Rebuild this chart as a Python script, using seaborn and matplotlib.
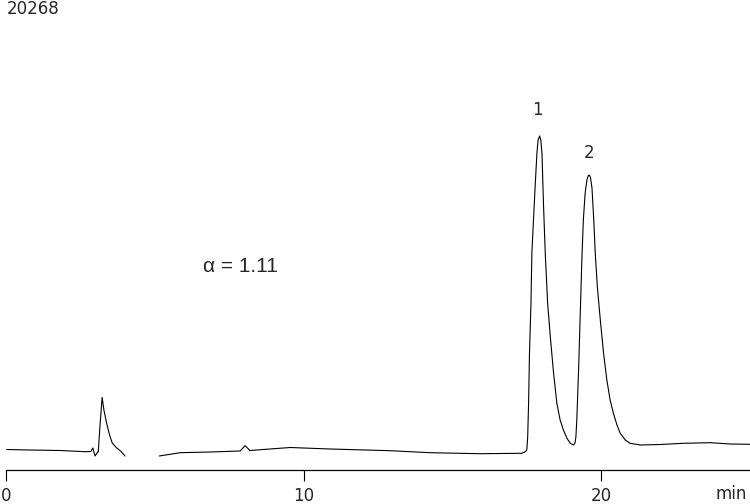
import pandas as pd
import seaborn as sns
import matplotlib.pyplot as plt

time_a = [0.02, 0.81, 1.82, 2.66, 2.85, 2.92, 2.99, 3.08, 3.10, 3.16, 3.23, 3.29,
          3.38, 3.48, 3.57, 3.72, 3.85, 4.00]
signal_a = [20.5, 20.0, 19.5, 18.3, 18.5, 22.0, 14.0, 18.0, 18.0, 45.0, 72.5, 60.0,
            47.0, 35.0, 27.0, 22.0, 19.0, 14.0]

time_b = [5.15, 5.85, 6.86, 7.87, 8.03, 8.20, 8.87, 9.55, 10.89, 12.91, 14.25, 15.93,
          17.33, 17.45, 17.50, 17.53, 17.56, 17.59, 17.64, 17.67, 17.78, 17.84, 17.88,
          17.93, 17.97, 18.01, 18.06, 18.12, 18.20, 18.29, 18.40, 18.51, 18.62, 18.73,
          18.85, 18.96, 19.07, 19.12, 19.15, 19.18, 19.24, 19.29, 19.35, 19.40, 19.46,
          19.52, 19.56, 19.60, 19.64, 19.69, 19.75, 19.80, 19.87, 19.97, 20.08, 20.19,
          20.30, 20.41, 20.53, 20.64, 20.81, 20.97, 21.31, 21.98, 22.76, 23.66, 24.34,
          25.0]
signal_b = [14.0, 17.3, 18.0, 19.0, 24.3, 19.5, 21.0, 22.5, 21.0, 19.3, 17.3, 16.3,
            16.7, 18.3, 20.0, 33.0, 67.0, 116.7, 166.7, 216.7, 283.3, 316.7, 330.0,
            334.0, 330.0, 316.7, 266.7, 216.7, 166.7, 133.3, 96.7, 66.7, 50.0, 40.0,
            31.7, 26.7, 25.0, 27.0, 33.3, 50.0, 100.0, 150.0, 210.0, 250.0, 276.7,
            290.0, 294.0, 295.0, 292.5, 282.0, 250.0, 216.7, 183.3, 150.0, 116.7, 90.0,
            70.0, 56.7, 45.0, 36.7, 30.0, 26.7, 25.0, 25.5, 26.7, 27.3, 26.0, 25.7]

peak_labels = ['1', '2']
peak_times = [17.85, 19.59]
peak_heights = [360, 317]

xticks = [0, 10, 20]

df = pd.concat([
    pd.DataFrame({'t': time_a, 's': signal_a, 'seg': 0}),
    pd.DataFrame({'t': time_b, 's': signal_b, 'seg': 1}),
])

sns.set_style('white')
plt.rcParams['font.family'] = ['DejaVu Sans']

fig = plt.figure(figsize=(7.5, 5.04), dpi=100)
ax = fig.add_axes([6 / 750, 1 - 470 / 504, 744 / 750, 450 / 504])

sns.lineplot(data=df, x='t', y='s', units='seg', estimator=None, color='black',
             linewidth=0.8, ax=ax)

ax.set_xlim(0, 25)
ax.set_ylim(0, 450)
ax.set_xticks(xticks)
ax.set_xticklabels([str(v) for v in xticks], fontsize=12)
ax.set_yticks([])
ax.set_xlabel('')
ax.set_ylabel('')
sns.despine(ax=ax, left=True)
ax.spines['bottom'].set_color('black')
ax.spines['bottom'].set_linewidth(0.9)
ax.tick_params(axis='x', direction='out', length=8, width=0.8, color='black', pad=4,
               bottom=True)

for lab, t, h in zip(peak_labels, peak_times, peak_heights):
    ax.text(t, h, lab, ha='center', va='center', fontsize=12)

fig.text(7 / 750, 1 - 9 / 504, '20268', ha='left', va='center', fontsize=12)
fig.text(240 / 750, 1 - 267 / 504, 'α = 1.11', ha='center', va='center', fontsize=15,
         family=['Liberation Sans', 'DejaVu Sans'])
fig.text(731 / 750, 1 - 494 / 504, 'min', ha='center', va='center', fontsize=12)

fig.savefig('out.png', dpi=100)
